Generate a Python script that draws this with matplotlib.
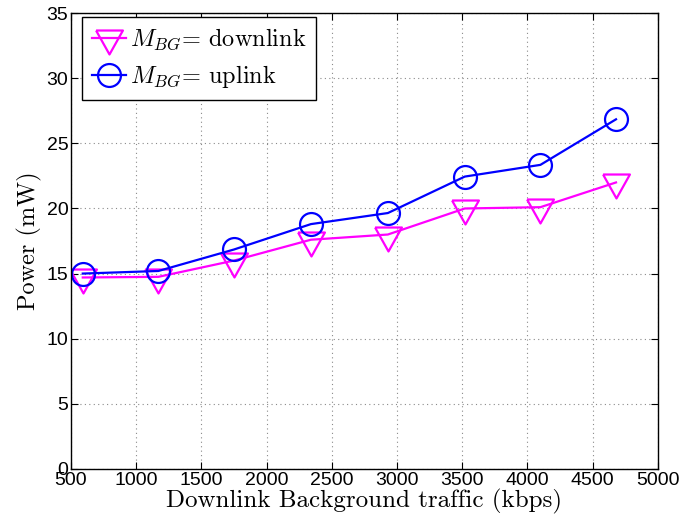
import matplotlib
matplotlib.use('Agg')
import matplotlib.pyplot as plt

# data
traffic = [590, 1170, 1750, 2340, 2930, 3520, 4100, 4680]
power_down = [14.7, 14.75, 16.0, 17.6, 18.0, 20.0, 20.1, 22.0]
power_up = [15.0, 15.2, 16.85, 18.8, 19.65, 22.45, 23.35, 26.85]

plt.rcParams['mathtext.fontset'] = 'cm'

# triangle centred on its centroid, like the matlab marker
tri = [(-0.84, 0.5), (0.84, 0.5), (0.0, -1.0), (-0.84, 0.5)]

fig = plt.figure(figsize=(6.83, 5.28), dpi=100)
ax = fig.add_axes([0.104, 0.112, 0.859, 0.863])

ax.plot(traffic, power_down, color='#ff00ff', lw=1.6, marker=tri, ms=23,
        mfc='none', mew=1.6, label='$M_{BG}$= downlink')
ax.plot(traffic, power_up, color='#0000ff', lw=1.6, marker='o', ms=16.5,
        mfc='none', mew=1.6, label='$M_{BG}$= uplink')

ax.set_xlim(500, 5000)
ax.set_ylim(0, 35)
ax.set_xticks(range(500, 5001, 500))
ax.set_yticks(range(0, 36, 5))
ax.tick_params(direction='in', top=True, right=True, length=5, width=0.8,
               labelsize=14, pad=2)
for lab in ax.get_xticklabels() + ax.get_yticklabels():
    lab.set_fontfamily('Liberation Sans')
ax.grid(True, ls=(0, (1, 3)), color='#8a8a8a', lw=0.8)
for sp in ax.spines.values():
    sp.set_linewidth(1.0)

ax.set_xlabel('Downlink Background traffic (kbps)', fontfamily='cmr10',
              fontsize=18, labelpad=0)
ax.set_ylabel('Power (mW)', fontfamily='cmr10', fontsize=17.5, labelpad=3)

leg = ax.legend(loc='upper left', bbox_to_anchor=(0.019, 0.991),
                prop={'family': 'cmr10', 'size': 17.5},
                fancybox=False, edgecolor='black', framealpha=1,
                handlelength=1.4, handletextpad=0.15, borderpad=0.4,
                labelspacing=0.45, borderaxespad=0)
leg.get_frame().set_linewidth(1.0)

fig.savefig('out.png', dpi=100)
